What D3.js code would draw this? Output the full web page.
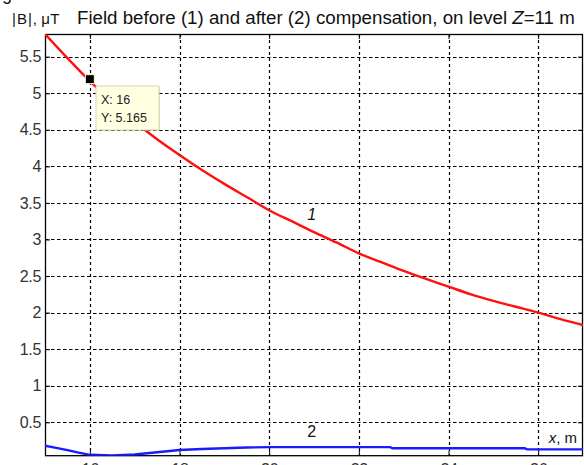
<!DOCTYPE html>
<html><head><meta charset="utf-8">
<script src="https://cdn.jsdelivr.net/npm/d3@7"></script>
<style>
html,body{margin:0;padding:0;background:#fff;overflow:hidden;}
svg{display:block;}
text{font-family:"Liberation Sans",Arial,sans-serif;}
</style></head>
<body>
<script>
// Data
const xValues = [15,15.5,16,16.5,17,17.5,18,18.5,19,19.5,20,20.5,21,21.5,22,22.5,23,23.5,24,24.5,25,25.5,26,26.5,27];
const before  = [5.81,5.48,5.165,4.88,4.61,4.37,4.155,3.95,3.76,3.58,3.40,3.25,3.10,2.96,2.81,2.69,2.57,2.46,2.355,2.25,2.16,2.08,2.00,1.91,1.83];
const afterX  = [15,15.25,15.5,15.75,16,16.5,17,17.5,18,18.5,19,19.5,20,21,22,22.7,22.75,23,24,25,25.7,25.75,26,27];
const after   = [0.18,0.15,0.12,0.085,0.055,0.045,0.06,0.09,0.12,0.135,0.145,0.155,0.16,0.16,0.16,0.16,0.145,0.145,0.145,0.145,0.145,0.13,0.13,0.13];
const xTicks = [16,18,20,22,24,26];
const yTicks = [0.5,1,1.5,2,2.5,3,3.5,4,4.5,5,5.5];
const datatip = {x:16, y:5.165};
const titleMain = "Field before (1) and after (2) compensation, on level ";

const W=584,H=465;
const m={left:45,right:1,top:34,bottom:9.3};
const svg=d3.select("body").append("svg").attr("width",W).attr("height",H);
svg.append("rect").attr("width",W).attr("height",H).attr("fill","#fff");

const x=d3.scaleLinear().domain([15,27]).range([m.left,W-m.right]);
const y=d3.scaleLinear().domain([0.043,5.81]).range([H-m.bottom,m.top]);
const x0=m.left,x1=W-m.right,y0=H-m.bottom,y1=m.top;

svg.append("defs").append("clipPath").attr("id","clip")
  .append("rect").attr("x",x0).attr("y",y1).attr("width",x1-x0).attr("height",y0-y1);

// grid
const g=svg.append("g");
g.selectAll(".gx").data(xTicks).join("line")
  .attr("x1",d=>Math.round(x(d))+0.5).attr("x2",d=>Math.round(x(d))+0.5)
  .attr("y1",y1).attr("y2",y0)
  .attr("stroke","#000").attr("stroke-width",1.2).attr("stroke-dasharray","3,3");
g.selectAll(".gy").data(yTicks).join("line")
  .attr("y1",d=>Math.round(y(d))+0.5).attr("y2",d=>Math.round(y(d))+0.5)
  .attr("x1",x0).attr("x2",x1)
  .attr("stroke","#000").attr("stroke-width",1.2).attr("stroke-dasharray","3.5,2.5");

// axes
const axL=d3.axisLeft(y).tickValues(yTicks).tickSize(-5).tickPadding(4).tickFormat(d3.format("~g"));
const axR=d3.axisRight(y).tickValues(yTicks).tickSize(-5).tickFormat("");
const axB=d3.axisBottom(x).tickValues(xTicks).tickSize(-5).tickPadding(8).tickFormat(d3.format("d"));
const axT=d3.axisTop(x).tickValues(xTicks).tickSize(-5).tickFormat("");
function style(sel){
  sel.select(".domain").remove();
  sel.selectAll("line").attr("stroke","#000");
  sel.selectAll("text").attr("fill","#333").attr("font-size",16).attr("letter-spacing",-0.3)
    .attr("font-family","'Liberation Sans',Arial,sans-serif");
}
svg.append("g").attr("transform",`translate(${x0},0)`).call(axL).call(style);
svg.append("g").attr("transform",`translate(${x1},0)`).call(axR).call(style);
svg.append("g").attr("transform",`translate(0,${y0})`).call(axB).call(style);
svg.append("g").attr("transform",`translate(0,${y1})`).call(axT).call(style);

// box
svg.append("rect").attr("x",x0+0.5).attr("y",y1+0.5).attr("width",x1-x0-1).attr("height",y0-y1-0.5)
  .attr("fill","none").attr("stroke","#000").attr("stroke-width",1.3);

// lines
const plot=svg.append("g").attr("clip-path","url(#clip)");
plot.append("path").datum(xValues.map((v,i)=>[v,before[i]]))
  .attr("d",d3.line().x(d=>x(d[0])).y(d=>y(d[1])).curve(d3.curveMonotoneX))
  .attr("fill","none").attr("stroke","#ff1010").attr("stroke-width",2.4);
plot.append("path").datum(afterX.map((v,i)=>[v,after[i]]))
  .attr("d",d3.line().x(d=>x(d[0])).y(d=>y(d[1])))
  .attr("fill","none").attr("stroke","#1a1aff").attr("stroke-width",2.4);

// curve labels
svg.append("text").attr("x",x(20.95)).attr("y",y(3.27)).attr("font-size",16).attr("font-style","italic")
  .attr("fill","#111").attr("text-anchor","middle").text("1");
svg.append("text").attr("x",x(20.95)).attr("y",y(0.3)).attr("font-size",16)
  .attr("fill","#111").attr("text-anchor","middle").text("2");
const xl=svg.append("text").attr("x",x1-6).attr("y",y(0.21)).attr("font-size",15).attr("fill","#111").attr("text-anchor","end");
xl.append("tspan").attr("font-style","italic").text("x");
xl.append("tspan").text(", m");

// datatip
const dx=x(datatip.x),dy=y(datatip.y);
svg.append("rect").attr("x",dx-4.5).attr("y",dy-4.5-2).attr("width",9).attr("height",9).attr("fill","#000")
  .attr("stroke","#ffffe0").attr("stroke-width",1);
svg.append("rect").attr("x",97).attr("y",87).attr("width",63).attr("height",44).attr("fill","#888").attr("opacity",0.25);
svg.append("rect").attr("x",96).attr("y",86).attr("width",63).attr("height",44).attr("fill","#ffffe1").attr("stroke","#d8d8b0");
svg.append("text").attr("x",101).attr("y",104).attr("font-size",12.5).attr("fill","#222").text("X: "+datatip.x);
svg.append("text").attr("x",101).attr("y",122).attr("font-size",12.5).attr("fill","#222").text("Y: "+datatip.y);

// title
const t1=svg.append("text").attr("x",12).attr("y",24).attr("font-size",15).attr("fill","#111");
t1.append("tspan").attr("letter-spacing",1).text("|B|");
t1.append("tspan").text(", ");
t1.append("tspan").attr("letter-spacing",0.5).text("\u03bcT");
const t2=svg.append("text").attr("x",77).attr("y",24).attr("font-size",15.5).attr("fill","#111");
t2.append("tspan").text(titleMain);
t2.append("tspan").attr("font-style","italic").text("Z");
t2.append("tspan").text("=11 m");
const target=498;
const len=t2.node().getComputedTextLength();
t2.attr("font-size",15.5*target/len);

// caption fragment at top edge
svg.append("text").attr("x",2).attr("y",0).attr("font-size",18).attr("fill","#111").text("g");
</script>
</body></html>
